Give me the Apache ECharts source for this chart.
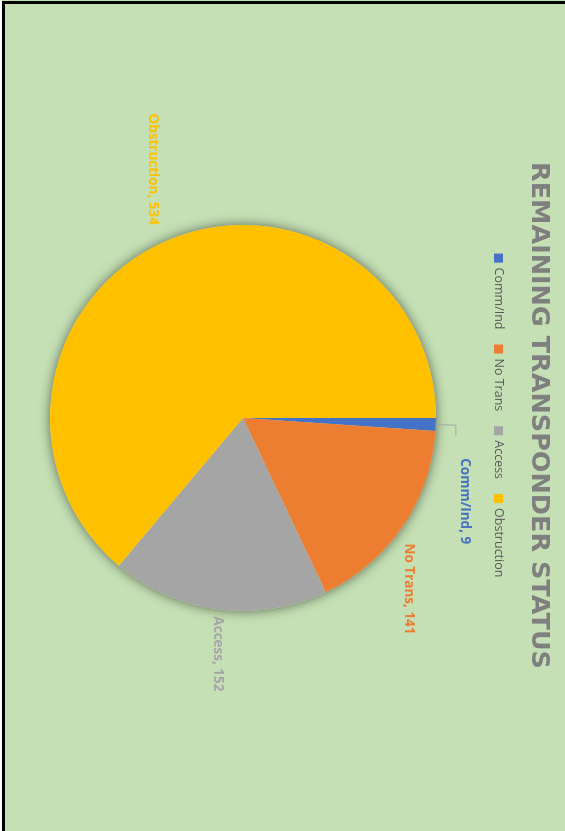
<!DOCTYPE html>
<html>
<head>
<meta charset="utf-8">
<script src="https://cdn.jsdelivr.net/npm/echarts@6/dist/echarts.min.js"></script>
<style>
  html, body { margin: 0; padding: 0; width: 565px; height: 831px; overflow: hidden; background: #C5E0B4; }
  #edgeWhite { position: absolute; left: 0; top: 0; width: 2px; height: 831px; background: #ffffff; }
  #edgeLeft { position: absolute; left: 2px; top: 1px; width: 3px; height: 830px; background: #000000; }
  #edgeTop { position: absolute; left: 2px; top: 1px; width: 563px; height: 3px; background: #000000; }
  /* chart is laid out landscape and turned a quarter clockwise onto the page */
  #chart { position: absolute; left: 0; top: 0; width: 831px; height: 565px;
           transform-origin: 0 0; transform: translate(565px, 0) rotate(90deg); }
</style>
</head>
<body>
<div id="chart"></div>
<div id="edgeWhite"></div>
<div id="edgeLeft"></div>
<div id="edgeTop"></div>
<script>
const titleText = 'REMAINING TRANSPONDER STATUS';
const categories = ['Comm/Ind', 'No Trans', 'Access', 'Obstruction'];
const values = [9, 141, 152, 534];
const sliceColors = ['#4472C4', '#ED7D31', '#A5A5A5', '#FFC000'];

// per-slice label placement (leader length, horizontal run, padding, line visibility)
const labelLineLen = [20, 7, 7, 20];
const labelLineLen2 = [10, 13, 0, 0];
const labelPads = [[0, 0, 0, 23], 0, 0, 0];
const labelLineShow = [true, false, false, false];
const labelFormats = ['{b}, {c}\n ', '{b}, {c}', '{b}, {c}', '{b}, {c}'];

const FONT = '"Open Sans", "Liberation Sans", sans-serif';

const chart = echarts.init(document.getElementById('chart'), null, { renderer: 'canvas' });

const pieData = categories.map((name, i) => ({
  name,
  value: values[i],
  itemStyle: { color: sliceColors[i] },
  label: { color: sliceColors[i], padding: labelPads[i], formatter: labelFormats[i] },
  labelLine: { show: labelLineShow[i], length: labelLineLen[i], length2: labelLineLen2[i] }
}));

const total = values.reduce((a, b) => a + b, 0);

chart.setOption({
  backgroundColor: '#C5E0B4',
  animation: false,
  title: {
    text: titleText,
    left: 'center',
    top: 8,
    textStyle: { fontFamily: '"DejaVu Sans", sans-serif', fontSize: 25.5, fontWeight: 'bold', color: '#7F7F7F' }
  },
  legend: {
    data: categories,
    top: 55,
    left: 'center',
    icon: 'rect',
    itemWidth: 9,
    itemHeight: 9,
    itemGap: 15,
    textStyle: { fontFamily: FONT, fontSize: 12.5, color: '#595959' }
  },
  series: [
    {
      // soft glow behind the pie
      type: 'pie',
      silent: true,
      center: [418, 322],
      radius: 193,
      label: { show: false },
      labelLine: { show: false },
      itemStyle: { color: '#C5E0B4', shadowBlur: 12, shadowColor: 'rgba(0,0,0,0.55)' },
      data: [{ name: '', value: total }],
      z: 1
    },
    {
      type: 'pie',
      center: [418, 322],
      radius: 193,
      startAngle: 90,
      clockwise: true,
      avoidLabelOverlap: false,
      z: 2,
      label: {
        show: true,
        position: 'outside',
        fontFamily: FONT,
        fontSize: 13.5,
        lineHeight: 18,
        fontWeight: 'bold',
        distanceToLabelLine: 0
      },
      labelLine: { lineStyle: { color: '#A6A6A6', width: 1 }, minTurnAngle: 0, smooth: false },
      itemStyle: { borderWidth: 0 },
      data: pieData
    }
  ]
});
</script>
</body>
</html>
